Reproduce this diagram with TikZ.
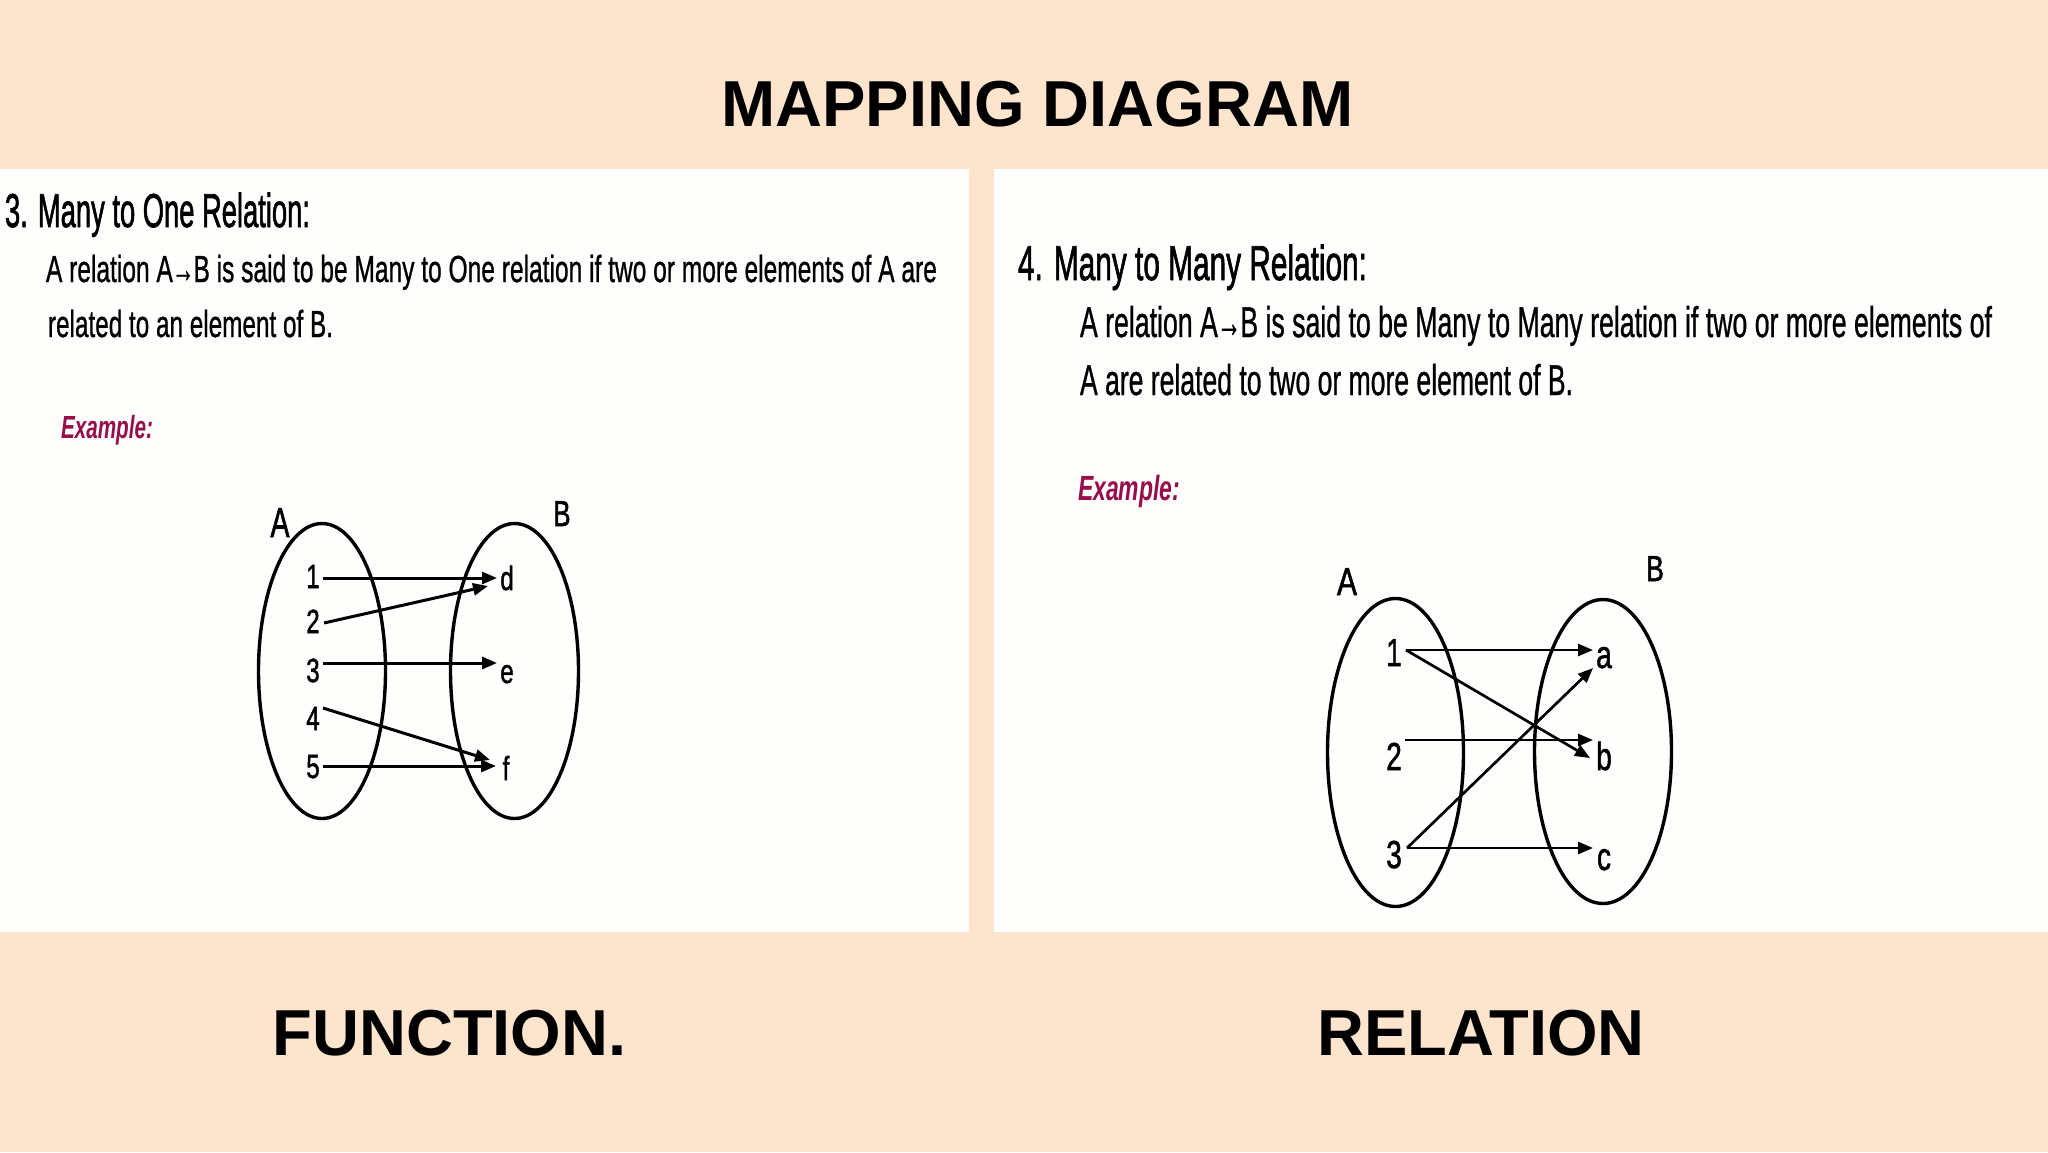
\documentclass[tikz,border=0pt]{standalone}
\usepackage{fontspec}
\setmainfont{Liberation Sans}
\newfontfamily\rf{Liberation Sans}[FakeBold=1]
\newfontfamily\lf{Liberation Sans}[FakeBold=1.6]
\newfontfamily\hf{Liberation Sans}[FakeBold=1.8]
\usepackage{graphicx}
\usetikzlibrary{arrows.meta,shapes.geometric}
\definecolor{peach}{RGB}{252,228,205}
\definecolor{panel}{RGB}{254,254,252}
\definecolor{exmag}{RGB}{150,15,75}
\newcommand\fw[3]{\resizebox{#1pt}{\height}{\fontsize{#2}{#2}\selectfont #3}}
\newcommand\nx[3]{\scalebox{#2}[1]{\fontsize{#1}{#1}\selectfont\lf #3}}
\newcommand\sar{\kern-0.03em\scalebox{0.9}[1]{→}\kern-0.03em}
\tikzset{
  txt/.style={anchor=base west, inner sep=0pt, outer sep=0pt},
  bigtitle/.style={anchor=base, inner sep=0pt, font=\bfseries\fontsize{65}{65}\selectfont},
  lbl/.style={anchor=base, inner sep=0pt, outer sep=0pt},
  setell/.style={ellipse, draw=black, line width=3.4pt, inner sep=0pt},
  arr/.style={-{Triangle[length=15pt,width=12pt]}, line width=3pt, black},
  exstyle/.style={txt, text=exmag}
}
\begin{document}
\begin{tikzpicture}[x=1pt,y=-1pt]
\useasboundingbox (0,0) rectangle (2048,1152);
\fill[peach] (0,0) rectangle (2048,1152);
\fill[panel] (0,169) rectangle (969,932);
\fill[panel] (994,169) rectangle (2048,932);

\node[bigtitle] (title) at (1037.5,126) {MAPPING DIAGRAM};
\node[bigtitle] (func) at (449.5,1055) {FUNCTION.};
\node[bigtitle] (rel) at (1481,1055) {RELATION};

% left panel text
\node[txt] (h3) at (5,227) {\fw{305}{47.5}{\hf 3. Many to One Relation:}};
\node[txt] (l1) at (46,282) {\fw{891}{37.7}{\rf A relation A\sar B is said to be Many to One relation if two or more elements of A are}};
\node[txt] (l2) at (48,337) {\fw{285}{37.7}{\rf related to an element of B.}};
\node[exstyle] (ex1) at (61,438) {\fw{92}{32}{\bfseries\itshape Example:}};

% right panel text
\node[txt] (h4) at (1018,280) {\fw{349}{49}{\hf 4. Many to Many Relation:}};
\node[txt] (r1) at (1080,337) {\fw{912}{43}{\rf A relation A\sar B is said to be Many to Many relation if two or more elements of}};
\node[txt] (r2) at (1080,395) {\fw{493}{43}{\rf A are related to two or more element of B.}};
\node[exstyle] (ex2) at (1078,500) {\fw{102}{35}{\bfseries\itshape Example:}};

% left diagram
\node[setell, minimum width=127pt, minimum height=295pt] (LA) at (322,671) {};
\node[setell, minimum width=128pt, minimum height=295pt] (LB) at (514.5,671) {};
\node[lbl] (LAl) at (280,537) {\nx{42}{0.68}{A}};
\node[lbl] (LBl) at (562,526) {\nx{36}{0.72}{B}};
\node[lbl] (n1) at (313,588) {\nx{33.5}{0.72}{1}};
\node[lbl] (n2) at (313,633) {\nx{33.5}{0.72}{2}};
\node[lbl] (n3) at (313,682) {\nx{33.5}{0.72}{3}};
\node[lbl] (n4) at (313,730) {\nx{33.5}{0.72}{4}};
\node[lbl] (n5) at (313,778) {\nx{33.5}{0.72}{5}};
\node[lbl] (ld) at (507,590) {\nx{33.5}{0.72}{d}};
\node[lbl] (le) at (507,683) {\nx{33.5}{0.72}{e}};
\node[lbl] (lf) at (506,780) {\nx{33.5}{0.72}{f}};
\coordinate (n1o) at (323,578);
\coordinate (n2o) at (324,623);
\coordinate (n3o) at (323,663);
\coordinate (n4o) at (323,708);
\coordinate (n5o) at (323,766);
\coordinate (ldi) at (497,578);
\coordinate (ldi2) at (488,586);
\coordinate (lei) at (497,663);
\coordinate (lfi) at (496,766);
\coordinate (lfi2) at (490,760);
\draw[arr] (n1o) -- (ldi);
\draw[arr] (n2o) -- (ldi2);
\draw[arr] (n3o) -- (lei);
\draw[arr] (n4o) -- (lfi2);
\draw[arr] (n5o) -- (lfi);

% right diagram
\node[setell, minimum width=136pt, minimum height=308pt] (RA) at (1395.5,752.5) {};
\node[setell, minimum width=137pt, minimum height=304pt] (RB) at (1603,751.5) {};
\node[lbl] (RAl) at (1347,595) {\nx{39}{0.77}{A}};
\node[lbl] (RBl) at (1655,581) {\nx{36}{0.74}{B}};
\node[lbl] (m1) at (1394,666) {\nx{39}{0.72}{1}};
\node[lbl] (m2) at (1394,770) {\nx{39}{0.72}{2}};
\node[lbl] (m3) at (1394,868) {\nx{39}{0.72}{3}};
\node[lbl] (ra) at (1604,668) {\nx{39}{0.72}{a}};
\node[lbl] (rb) at (1604,770) {\nx{39}{0.72}{b}};
\node[lbl] (rc) at (1604,870) {\nx{39}{0.72}{c}};
\coordinate (m1o) at (1406,650);
\coordinate (m2o) at (1405,740);
\coordinate (m3o) at (1407,848);
\coordinate (rai) at (1593,650);
\coordinate (rai2) at (1593,668);
\coordinate (rbi) at (1593,740);
\coordinate (rbi2) at (1590,758);
\coordinate (rci) at (1593,848);
\draw[arr, line width=2.7pt] (m1o) -- (rai);
\draw[arr, line width=2.7pt] (m1o) -- (rbi2);
\draw[arr, line width=2.7pt] (m2o) -- (rbi);
\draw[arr, line width=2.7pt] (m3o) -- (rai2);
\draw[arr, line width=2.7pt] (m3o) -- (rci);
\end{tikzpicture}
\end{document}
